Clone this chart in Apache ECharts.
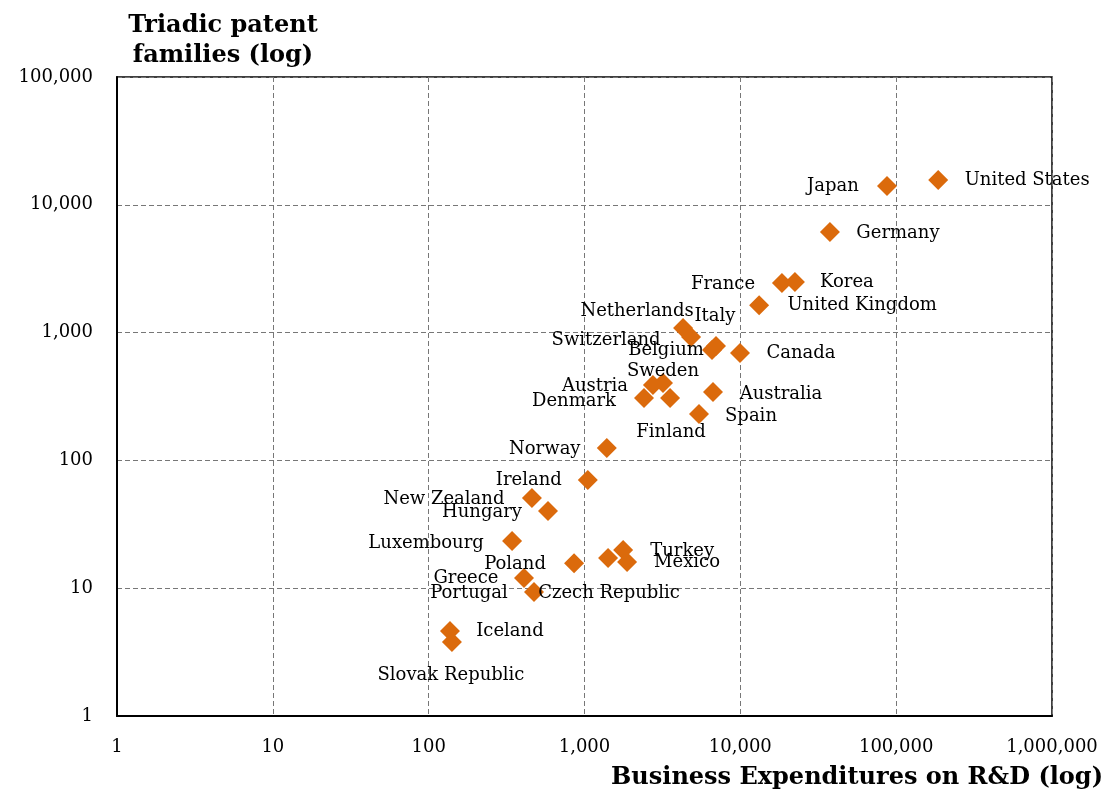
<!DOCTYPE html>
<html>
<head>
<meta charset="utf-8">
<script src="https://cdn.jsdelivr.net/npm/echarts@6/dist/echarts.min.js"></script>
<style>
  html, body { margin: 0; padding: 0; background: #fff; }
  #chart { width: 1112px; height: 791px; }
</style>
</head>
<body>
<div id="chart"></div>
<script>
// Business R&D spending (x) against triadic patent families (y), by country
const countries = [
  'United States', 'Japan', 'Germany', 'Korea', 'France', 'United Kingdom',
  'Canada', 'Netherlands', 'Switzerland', 'Italy', 'Belgium', 'Sweden',
  'Austria', 'Denmark', 'Finland', 'Australia', 'Spain', 'Norway', 'Ireland',
  'New Zealand', 'Hungary', 'Luxembourg', 'Poland', 'Turkey', 'Mexico',
  'Czech Republic', 'Greece', 'Portugal', 'Iceland', 'Slovak Republic'
];
const berd = [
  186000, 87300, 37600, 22400, 18500, 13200,
  9950, 4290, 4830, 6980, 6580, 3190,
  2750, 2410, 3540, 6680, 5430, 1390, 1050,
  460, 583, 343, 857, 1770, 1875,
  1416, 409, 474, 137, 141
];
const patents = [
  15600, 14000, 6120, 2490, 2440, 1640,
  692, 1086, 924, 785, 731, 403,
  389, 308, 308, 343, 231, 125, 70.3,
  50.8, 40.2, 23.4, 15.7, 19.9, 16.0,
  17.2, 12.0, 9.34, 4.62, 3.79
];
const xTicks = ['1', '10', '100', '1,000', '10,000', '100,000', '1,000,000'];
const yTicks = ['1', '10', '100', '1,000', '10,000', '100,000'];

// Where each country's name sits relative to its marker (pixels)
const labelShift = {
  'United States': [89, 0], 'Japan': [-54, 0], 'Germany': [68, 1],
  'Korea': [52, 0], 'France': [-59, 1], 'United Kingdom': [103, 0],
  'Canada': [61, 0], 'Netherlands': [-46, -17], 'Switzerland': [-85, 3],
  'Italy': [-1, -30], 'Belgium': [-46, 0], 'Sweden': [0, -12],
  'Austria': [-58, 1], 'Denmark': [-70, 3], 'Finland': [1, 34],
  'Australia': [68, 2], 'Spain': [52, 2], 'Norway': [-62, 1],
  'Ireland': [-59, 0], 'New Zealand': [-88, 1], 'Hungary': [-66, 1],
  'Luxembourg': [-86, 2], 'Poland': [-59, 1], 'Turkey': [59, 1],
  'Mexico': [60, 0], 'Czech Republic': [1, 35], 'Greece': [-58, 0],
  'Portugal': [-65, 1], 'Iceland': [60, 0], 'Slovak Republic': [-1, 33]
};

const FONT = '"DejaVu Serif", "Liberation Serif", serif';

function fmt(v) {
  return Math.round(v).toString().replace(/\B(?=(\d{3})+(?!\d))/g, ',');
}

const points = countries.map((c, i) => ({ name: c, value: [berd[i], patents[i]] }));

const chart = echarts.init(document.getElementById('chart'), null, { renderer: 'canvas' });
chart.setOption({
  animation: false,
  backgroundColor: '#ffffff',
  textStyle: { fontFamily: FONT },
  title: [
    {
      text: 'Triadic patent\nfamilies (log)',
      left: 218, top: 6, textAlign: 'center',
      textStyle: { fontFamily: FONT, fontWeight: 'bold', fontSize: 24, lineHeight: 30, color: '#000' }
    },
    {
      text: 'Business Expenditures on R&D (log)',
      right: 4, top: 761,
      textStyle: { fontFamily: FONT, fontWeight: 'bold', fontSize: 24, color: '#000' }
    }
  ],
  grid: {
    left: 117, right: 60, top: 77, bottom: 75,
    show: true, borderColor: '#000', borderWidth: 1.5
  },
  xAxis: {
    type: 'log', logBase: 10, min: 1, max: 1000000,
    axisLine: { show: true, lineStyle: { color: '#000', width: 2 } },
    axisTick: { show: false },
    axisLabel: {
      margin: 22, fontFamily: FONT, fontSize: 18, color: '#000',
      formatter: v => xTicks[Math.round(Math.log10(v))] ?? fmt(v)
    },
    splitLine: { show: true, lineStyle: { color: '#777', type: [5, 3], width: 1 } }
  },
  yAxis: {
    type: 'log', logBase: 10, min: 1, max: 100000,
    axisLine: { show: true, lineStyle: { color: '#000', width: 2 } },
    axisTick: { show: false },
    axisLabel: {
      margin: 24, fontFamily: FONT, fontSize: 18, color: '#000',
      formatter: v => yTicks[Math.round(Math.log10(v))] ?? fmt(v)
    },
    splitLine: { show: true, lineStyle: { color: '#777', type: [5, 3], width: 1 } }
  },
  series: [{
    type: 'scatter',
    symbol: 'diamond',
    symbolSize: 20,
    itemStyle: { color: '#DB6A0C', opacity: 1 },
    label: {
      show: true,
      position: 'inside',
      align: 'center',
      verticalAlign: 'middle',
      formatter: p => p.name,
      fontFamily: FONT,
      fontSize: 18,
      color: '#000',
      opacity: 1
    },
    labelLayout: params => {
      const s = labelShift[countries[params.dataIndex]] || [0, 0];
      return { dx: s[0], dy: s[1], hideOverlap: false };
    },
    data: points
  }]
});
</script>
</body>
</html>
